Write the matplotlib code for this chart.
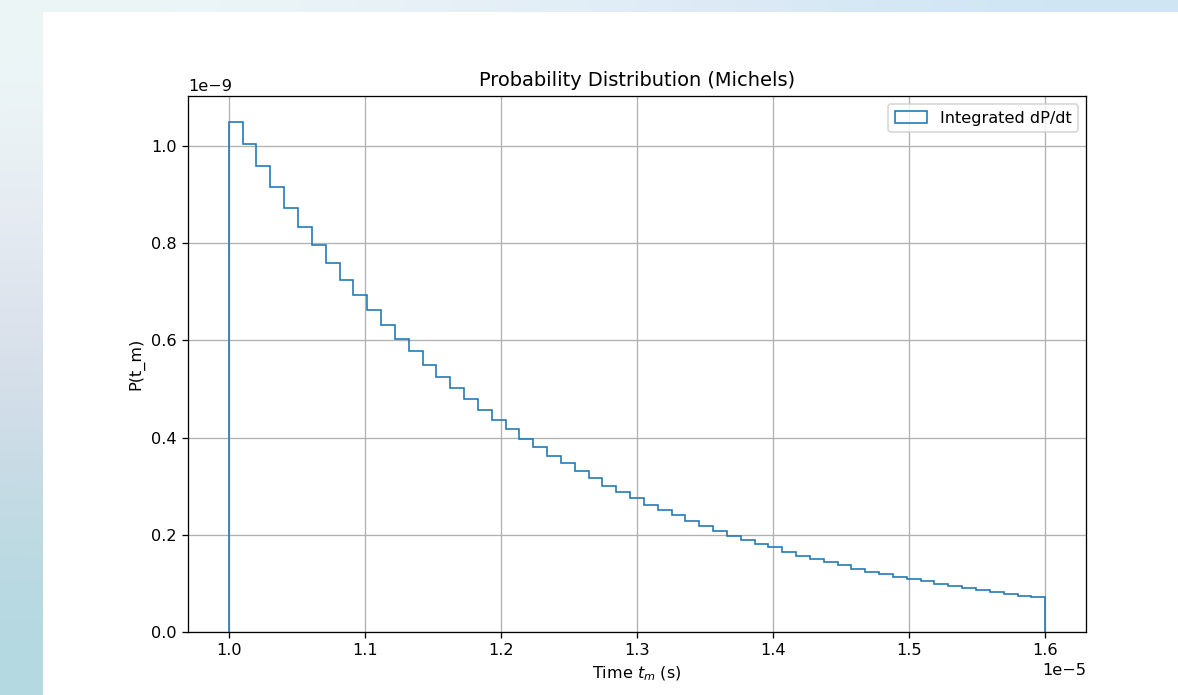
import numpy as np
import matplotlib
matplotlib.use("Agg")
import matplotlib.pyplot as plt
from matplotlib.patches import Rectangle

# Time window of the measurement (seconds) and number of bins
t_start = 1.0e-5
t_stop = 1.6e-5
n_bins = 59

# Integrated dP/dt per bin (units of 1e-9)
p_bins = [
    1.050, 1.004, 0.958, 0.915, 0.873, 0.834, 0.796, 0.759, 0.725, 0.693,
    0.662, 0.632, 0.603, 0.577, 0.550, 0.525, 0.501, 0.479, 0.457, 0.436,
    0.417, 0.398, 0.380, 0.363, 0.347, 0.331, 0.316, 0.301, 0.288, 0.275,
    0.262, 0.251, 0.240, 0.229, 0.218, 0.208, 0.198, 0.190, 0.181, 0.174,
    0.165, 0.157, 0.150, 0.143, 0.137, 0.130, 0.124, 0.119, 0.114, 0.109,
    0.104, 0.099, 0.094, 0.090, 0.086, 0.082, 0.078, 0.075, 0.071,
]

title = "Probability Distribution (Michels)"
x_label = "Time $t_m$ (s)"
y_label = "P(t_m)"
legend_label = "Integrated dP/dt"

W, H, DPI = 1178, 695, 116
fig = plt.figure(figsize=(W / DPI, H / DPI), dpi=DPI)

# Soft backdrop behind the page
bg = fig.add_axes([0, 0, 1, 1], zorder=-10)
corners = np.array([
    [[0.93, 0.97, 0.97], [0.90, 0.93, 0.97], [0.81, 0.90, 0.96]],
    [[0.87, 0.87, 0.92], [0.86, 0.88, 0.93], [0.80, 0.88, 0.94]],
    [[0.70, 0.85, 0.88], [0.74, 0.86, 0.90], [0.78, 0.88, 0.93]],
])
bg.imshow(corners, extent=[0, 1, 0, 1], aspect="auto", interpolation="bicubic")
bg.set_xlim(0, 1)
bg.set_ylim(0, 1)
bg.axis("off")

# White page
fig.patches.append(Rectangle((43 / W, 0), 1 - 43 / W, 1 - 12 / H,
                             transform=fig.transFigure, facecolor="white",
                             edgecolor="none", zorder=-5))

ax = fig.add_axes([188 / W, (H - 632) / H, (1086 - 188) / W, (632 - 96) / H])
edges = np.linspace(t_start, t_stop, n_bins + 1)
weights = np.array(p_bins) * 1e-9
ax.hist(edges[:-1], bins=edges, weights=weights, histtype="step",
        color="#1f77b4", linewidth=1.0, label=legend_label)
ax.set_title(title)
ax.set_xlabel(x_label)
ax.set_ylabel(y_label)
ax.grid(True)
ax.legend(loc="upper right")

fig.savefig("out.png", dpi=DPI)
